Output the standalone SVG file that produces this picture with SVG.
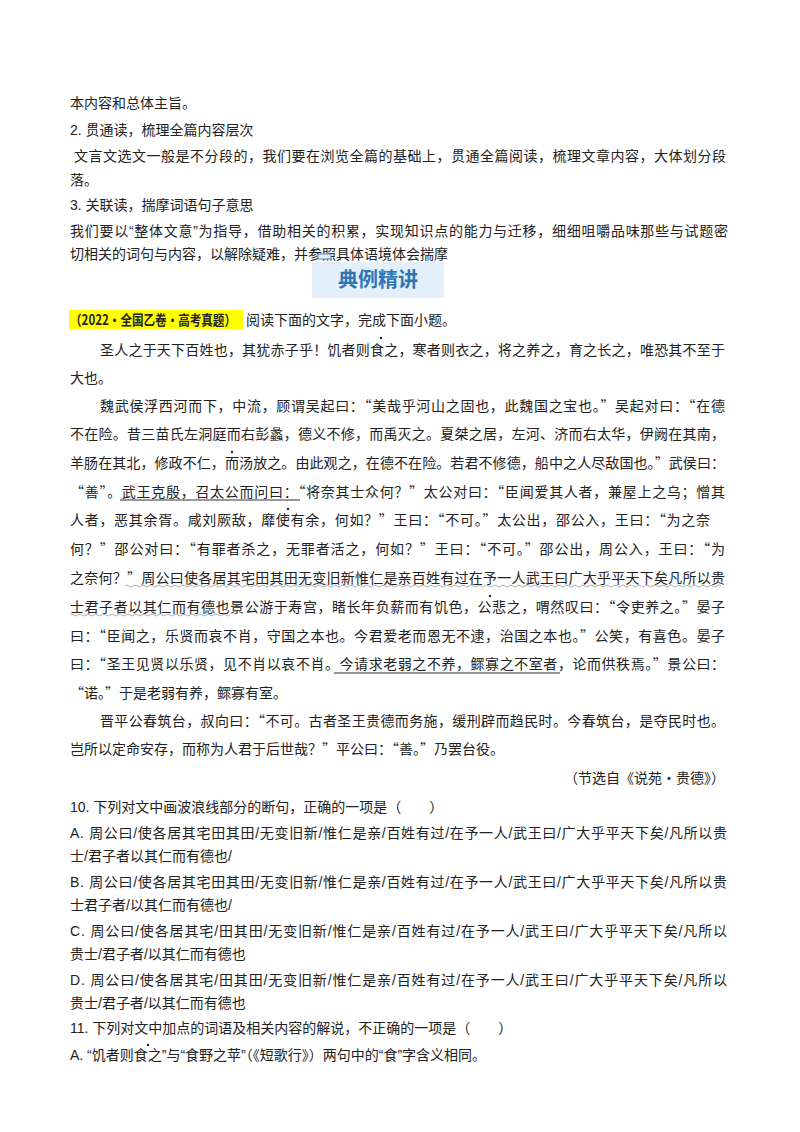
<svg xmlns="http://www.w3.org/2000/svg" width="800" height="1132" viewBox="0 0 800 1132">
<style>
text{font-family:"Liberation Sans","Noto Sans CJK SC",sans-serif;font-size:14px;fill:#222}
.c{font-family:"Noto Sans CJK SC",serif;font-size:14px;fill:#222}
.dot{fill:#222}
</style>
<rect width="800" height="1132" fill="#fff"/>
<g id="intro">
<text x="70" y="108">本内容和总体主旨。</text>
<text x="70" y="135">2. 贯通读，梳理全篇内容层次</text>
<text x="74" y="161" textLength="652" lengthAdjust="spacing">文言文选文一般是不分段的，我们要在浏览全篇的基础上，贯通全篇阅读，梳理文章内容，大体划分段</text>
<text x="70" y="185">落。</text>
<text x="70" y="210">3. 关联读，揣摩词语句子意思</text>
<text x="70" y="236" textLength="658" lengthAdjust="spacing">我们要以“整体文意”为指导，借助相关的积累，实现知识点的能力与迁移，细细咀嚼品味那些与试题密</text>
<text x="70" y="259">切相关的词句与内容，以解除疑难，并参照具体语境体会揣摩</text>
</g>
<g id="banner">
<rect x="318" y="254" width="13" height="5" fill="#e6f0fa" stroke="#4a86c8" stroke-width="1"/>
<rect x="312" y="262" width="132" height="36" fill="#e3eff9"/>
<text x="378" y="287" text-anchor="middle" style="font-family:'Noto Sans CJK SC',sans-serif;font-size:20px;font-weight:bold;fill:#2e75b6">典例精讲</text>
</g>
<g id="source">
<rect x="69" y="310" width="174" height="19" fill="#ffff00"/>
<text x="70" y="325" textLength="166" lengthAdjust="spacingAndGlyphs" style="font-weight:bold;font-family:'Noto Sans CJK SC',sans-serif;font-size:14px">（2022·全国乙卷·高考真题）</text>
<text x="246" y="325">阅读下面的文字，完成下面小题。</text>
</g>
<g id="passage">
<text class="c" x="100" y="355" textLength="625" lengthAdjust="spacing">圣人之于天下百姓也，其犹赤子乎！饥者则食之，寒者则衣之，将之养之，育之长之，唯恐其不至于</text>
<text class="c" x="70" y="383">大也。</text>
<text class="c" x="100" y="411" textLength="625" lengthAdjust="spacing">魏武侯浮西河而下，中流，顾谓吴起曰：“美哉乎河山之固也，此魏国之宝也。”吴起对曰：“在德</text>
<text class="c" x="70" y="439" textLength="655" lengthAdjust="spacing">不在险。昔三苗氏左洞庭而右彭蠡，德义不修，而禹灭之。夏桀之居，左河、济而右太华，伊阙在其南，</text>
<text class="c" x="70" y="468" textLength="655" lengthAdjust="spacing">羊肠在其北，修政不仁，而汤放之。由此观之，在德不在险。若君不修德，船中之人尽敌国也。”武侯曰：</text>
<text class="c" x="70" y="497" textLength="655" lengthAdjust="spacing">“善”。武王克殷，召太公而问曰：“将奈其士众何？”太公对曰：“臣闻爱其人者，兼屋上之乌；憎其</text>
<text class="c" x="70" y="525" textLength="640" lengthAdjust="spacing">人者，恶其余胥。咸刘厥敌，靡使有余，何如？”王曰：“不可。”太公出，邵公入，王曰：“为之奈</text>
<text class="c" x="70" y="554" textLength="655" lengthAdjust="spacing">何？”邵公对曰：“有罪者杀之，无罪者活之，何如？”王曰：“不可。”邵公出，周公入，王曰：“为</text>
<text class="c" x="70" y="583" textLength="655" lengthAdjust="spacing">之奈何？”周公曰使各居其宅田其田无变旧新惟仁是亲百姓有过在予一人武王曰广大乎平天下矣凡所以贵</text>
<text class="c" x="70" y="612" textLength="655" lengthAdjust="spacing">士君子者以其仁而有德也景公游于寿宫，睹长年负薪而有饥色，公悲之，喟然叹曰：“令吏养之。”晏子</text>
<text class="c" x="70" y="641" textLength="655" lengthAdjust="spacing">曰：“臣闻之，乐贤而哀不肖，守国之本也。今君爱老而恩无不逮，治国之本也。”公笑，有喜色。晏子</text>
<text class="c" x="70" y="669" textLength="655" lengthAdjust="spacing">曰：“圣王见贤以乐贤，见不肖以哀不肖。今请求老弱之不养，鳏寡之不室者，论而供秩焉。”景公曰：</text>
<text class="c" x="70" y="698">“诺。”于是老弱有养，鳏寡有室。</text>
<text class="c" x="100" y="726" textLength="625" lengthAdjust="spacing">晋平公春筑台，叔向曰：“不可。古者圣王贵德而务施，缓刑辟而趋民时。今春筑台，是夺民时也。</text>
<text class="c" x="70" y="754">岂所以定命安存，而称为人君于后世哉？”平公曰：“善。”乃罢台役。</text>
<text class="c" x="725" y="783" text-anchor="end">（节选自《说苑•贵德》）</text>
<circle class="dot" cx="381" cy="338" r="1.2"/>
<circle class="dot" cx="232" cy="452" r="1.2"/>
<circle class="dot" cx="288" cy="509" r="1.2"/>
<circle class="dot" cx="490" cy="596" r="1.2"/>
<path d="M120 500H300M334 673H560" stroke="#333" stroke-width="1" fill="none"/>
<path d="M125 586q2-2 4 0t4 0t4 0t4 0t4 0t4 0t4 0t4 0t4 0t4 0t4 0t4 0t4 0t4 0t4 0t4 0t4 0t4 0t4 0t4 0t4 0t4 0t4 0t4 0t4 0t4 0t4 0t4 0t4 0t4 0t4 0t4 0t4 0t4 0t4 0t4 0t4 0t4 0t4 0t4 0t4 0t4 0t4 0t4 0t4 0t4 0t4 0t4 0t4 0t4 0t4 0t4 0t4 0t4 0t4 0t4 0t4 0t4 0t4 0t4 0t4 0t4 0t4 0t4 0t4 0t4 0t4 0t4 0t4 0t4 0t4 0t4 0t4 0t4 0t4 0t4 0t4 0t4 0t4 0t4 0t4 0t4 0t4 0t4 0t4 0t4 0t4 0t4 0t4 0t4 0t4 0t4 0t4 0t4 0t4 0t4 0t4 0t4 0t4 0t4 0t4 0t4 0t4 0t4 0t4 0t4 0t4 0t4 0t4 0t4 0t4 0t4 0t4 0t4 0t4 0t4 0t4 0t4 0t4 0t4 0t4 0t4 0t4 0t4 0t4 0t4 0t4 0t4 0t4 0t4 0t4 0t4 0t4 0t4 0t4 0t4 0t4 0t4 0t4 0t4 0t4 0t4 0t4 0t4 0t4 0t4 0t4 0t4 0t4 0M70 615q2-2 4 0t4 0t4 0t4 0t4 0t4 0t4 0t4 0t4 0t4 0t4 0t4 0t4 0t4 0t4 0t4 0t4 0t4 0t4 0t4 0t4 0t4 0t4 0t4 0t4 0t4 0t4 0t4 0t4 0t4 0t4 0t4 0t4 0t4 0t4 0t4 0t4 0t4 0t4 0t4 0" stroke="#999" stroke-width="0.8" fill="none"/>
</g>
<g id="questions">
<text x="70" y="812">10. 下列对文中画波浪线部分的断句，正确的一项是（　　）</text>
<text x="70" y="838" textLength="657" lengthAdjust="spacing">A. 周公曰/使各居其宅田其田/无变旧新/惟仁是亲/百姓有过/在予一人/武王曰/广大乎平天下矣/凡所以贵</text>
<text x="70" y="861">士/君子者以其仁而有德也/</text>
<text x="70" y="887" textLength="657" lengthAdjust="spacing">B. 周公曰/使各居其宅田其田/无变旧新/惟仁是亲/百姓有过/在予一人/武王曰/广大乎平天下矣/凡所以贵</text>
<text x="70" y="910">士君子者/以其仁而有德也/</text>
<text x="70" y="936" textLength="657" lengthAdjust="spacing">C. 周公曰/使各居其宅/田其田/无变旧新/惟仁是亲/百姓有过/在予一人/武王曰/广大乎平天下矣/凡所以</text>
<text x="70" y="959">贵士/君子者/以其仁而有德也</text>
<text x="70" y="985" textLength="657" lengthAdjust="spacing">D. 周公曰/使各居其宅/田其田/无变旧新/惟仁是亲/百姓有过/在予一人/武王曰/广大乎平天下矣/凡所以</text>
<text x="70" y="1008">贵士/君子者/以其仁而有德也</text>
<text x="70" y="1033">11. 下列对文中加点的词语及相关内容的解说，不正确的一项是（　　）</text>
<text x="70" y="1060">A. “饥者则食之”与“食野之苹”（《短歌行》）两句中的“食”字含义相同。</text>
<circle class="dot" cx="148" cy="1045" r="1.2"/>
</g>
</svg>
